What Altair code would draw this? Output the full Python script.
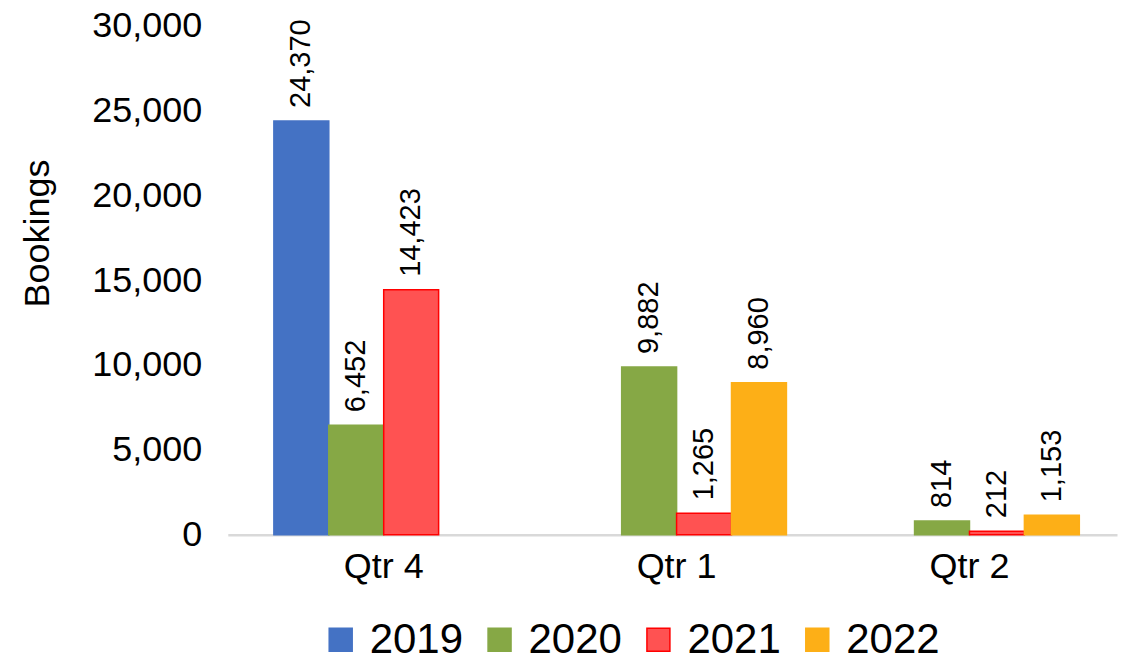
import altair as alt
import pandas as pd

quarters = ["Qtr 4", "Qtr 1", "Qtr 2"]
years = ["2019", "2020", "2021", "2022"]
bookings_2019 = [24370, None, None]
bookings_2020 = [6452, 9882, 814]
bookings_2021 = [14423, 1265, 212]
bookings_2022 = [None, 8960, 1153]
y_ticks = [0, 5000, 10000, 15000, 20000, 25000, 30000]
fill_colors = ["#4472C4", "#86A845", "#FF5252", "#FDAF17"]
stroke_colors = ["#4472C4", "#86A845", "#FF0000", "#FDAF17"]

rows = []
for yr, vals in zip(years, [bookings_2019, bookings_2020, bookings_2021, bookings_2022]):
    for q, v in zip(quarters, vals):
        if v is not None:
            rows.append({"quarter": q, "year": yr, "bookings": v})
df = pd.DataFrame(rows)

FONT = "Liberation Sans"

x_enc = alt.X(
    "quarter:N",
    sort=quarters,
    scale=alt.Scale(domain=quarters, paddingInner=0.25, paddingOuter=0.143, align=0.55),
    axis=alt.Axis(
        title=None, labelAngle=0, labelFontSize=36, labelPadding=15, ticks=False, tickSize=0,
        domainColor="#D9D9D9", domainWidth=2.5, labelColor="black", labelFont=FONT,
    ),
)
xo_enc = alt.XOffset("year:N", scale=alt.Scale(domain=years, paddingInner=0, paddingOuter=0))
y_enc = alt.Y(
    "bookings:Q",
    scale=alt.Scale(domain=[0, 30000], nice=False),
    axis=alt.Axis(
        values=y_ticks, format=",.0f", grid=False, domain=False, ticks=False, tickSize=0,
        labelFontSize=36, labelPadding=26, labelColor="black", labelFont=FONT,
        title="Bookings", titleFontSize=36, titleFontWeight="normal", titleFont=FONT,
        titleColor="black", titleX=-190, titleY=208, titleAngle=270,
        titleAlign="center", titleBaseline="middle",
    ),
)

legend_spec = alt.Legend(
    title=None, orient="none", legendX=92, legendY=594, direction="horizontal",
    labelFontSize=42, labelFont=FONT, labelColor="black", symbolType="square",
    symbolSize=529, labelOffset=8, columnPadding=15, symbolStrokeWidth=1.5,
)

base = alt.Chart(df).encode(x=x_enc, xOffset=xo_enc, y=y_enc)

bars = base.mark_bar(strokeWidth=1.5).encode(
    fill=alt.Fill("year:N", scale=alt.Scale(domain=years, range=fill_colors), legend=legend_spec),
    stroke=alt.Stroke("year:N", scale=alt.Scale(domain=years, range=stroke_colors), legend=legend_spec),
)

labels = base.mark_text(
    angle=270, align="left", baseline="middle", dx=13, fontSize=29, font=FONT, color="black"
).encode(
    text=alt.Text("bookings:Q", format=","),
)

chart = alt.layer(bars, labels).properties(
    width=890,
    height=510,
    padding={"left": 220, "top": 17, "right": 7, "bottom": 123},
    autosize=alt.AutoSizeParams(type="none"),
).configure(font=FONT, view=alt.ViewConfig(stroke=None))

chart.save("out.html", embed_options={"renderer": "svg", "actions": False})
